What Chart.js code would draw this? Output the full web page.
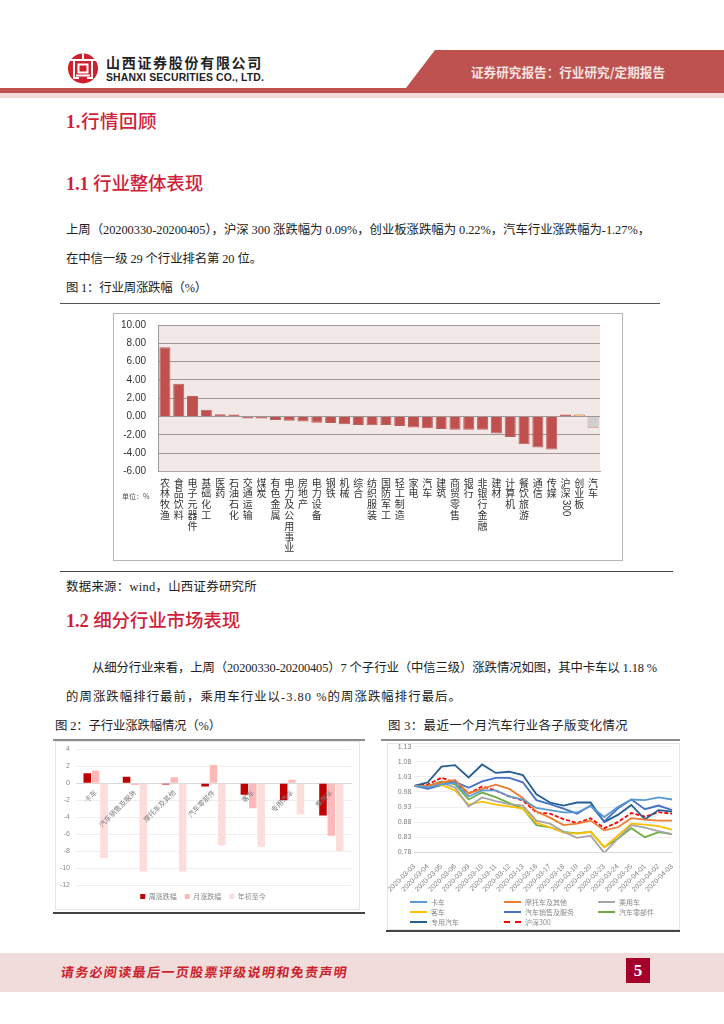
<!DOCTYPE html>
<html lang="zh">
<head>
<meta charset="utf-8">
<title>行业周报</title>
<script src="https://cdn.jsdelivr.net/npm/chart.js@4"></script>
<style>
  html, body { margin: 0; padding: 0; background: #fff; }
  #page { position: relative; width: 724px; height: 1024px; overflow: hidden; font-family: "Liberation Serif", "Noto Sans CJK SC", serif; color: #222; }
  .abs { position: absolute; white-space: nowrap; }
  .h1 { color: #cf1f3a; font-size: 18.5px; line-height: 24px; font-weight: 500; }
  .h1 b { font-weight: 700; }
  .body { font-size: 12.4px; line-height: 18px; }
  .cap { font-size: 12.4px; line-height: 18px; }
  .rule { position: absolute; }
  canvas { position: absolute; display: block; }
  .legend3 { position: absolute; font: 7px "Noto Sans CJK SC", sans-serif; color: #8a8a8a; line-height: 10px; white-space: nowrap; }
  .legend3 i { position: absolute; left: -21px; top: 4px; width: 17px; height: 0; border-top-width: 2px; border-top-style: solid; }
</style>
</head>
<body>
<div id="page">
  <!-- 页眉 -->
  <svg class="abs" style="left:0;top:0" width="724" height="98">
    <polygon points="435,50 724,50 724,93 0,93 0,88 406,88" fill="#bd5250"/>
    <rect x="0" y="93" width="724" height="5" fill="#f3d9d8"/>
    <circle cx="83" cy="68.5" r="15" fill="#cf2030"/>
    <g fill="none" stroke="#fff" stroke-width="2">
      <path d="M68 60H98M74 60V78H79M92 60V78H87"/>
      <rect x="78.5" y="64.5" width="9" height="8"/>
      <path d="M76 75.5H90"/>
    </g>
    <path d="M83 53.5V60" stroke="#fff" stroke-width="2"/>
  </svg>
  <div class="abs" data-w="157" style="left:106px;top:52px;font:bold 14px/20px 'Noto Sans CJK SC';color:#222">山西证券股份有限公司</div>
  <div class="abs" data-w="158" style="left:106px;top:71px;font:bold 10.4px/13px 'Liberation Sans';color:#222">SHANXI SECURITIES CO., LTD.</div>
  <div class="abs" data-w="194" style="left:471px;top:62px;font:bold 12.6px/20px 'Noto Sans CJK SC';color:#f6e3e2">证券研究报告：行业研究/定期报告</div>

  <div class="abs h1" data-w="91" style="left:66px;top:110px"><b>1.</b>行情回顾</div>
  <div class="abs h1" data-w="137" style="left:66px;top:172px"><b>1.1</b> 行业整体表现</div>
  <div class="abs body" data-w="584" style="left:66px;top:221px">上周（20200330-20200405），沪深 300 涨跌幅为 0.09%，创业板涨跌幅为 0.22%，汽车行业涨跌幅为-1.27%，</div>
  <div class="abs body" data-w="196" style="left:66px;top:250px">在中信一级 29 个行业排名第 20 位。</div>
  <div class="abs cap" data-w="141" style="left:66px;top:279px">图 1：行业周涨跌幅（%）</div>
  <div class="rule" style="left:60px;top:303px;width:600px;height:1px;background:#555"></div>

  <canvas id="chartWeek" style="left:113px;top:313px;outline:1px solid #b5b5b5;outline-offset:-1px"></canvas>
  <div class="abs" style="left:122px;top:491px;font:7px/11px 'Noto Sans CJK SC';color:#555">单位：%</div>

  <div class="rule" style="left:60px;top:571px;width:613px;height:1px;background:#444"></div>
  <div class="abs cap" data-w="191" style="left:66px;top:578px">数据来源：wind，山西证券研究所</div>
  <div class="abs h1" data-w="174" style="left:66px;top:609px"><b>1.2</b> 细分行业市场表现</div>
  <div class="abs body" data-w="565" style="left:92px;top:659px">从细分行业来看，上周（20200330-20200405）7 个子行业（中信三级）涨跌情况如图，其中卡车以 1.18 %</div>
  <div class="abs body" data-w="396" style="left:66px;top:688px">的周涨跌幅排行最前，乘用车行业以-3.80 %的周涨跌幅排行最后。</div>

  <div class="abs cap" data-w="166" style="left:55px;top:717px">图 2：子行业涨跌幅情况（%）</div>
  <div class="abs cap" data-w="240" style="left:388px;top:717px">图 3：最近一个月汽车行业各子版变化情况</div>
  <div class="rule" style="left:53px;top:739px;width:312px;height:2px;background:#8c8c8c"></div>
  <div class="rule" style="left:381px;top:739px;width:299px;height:2px;background:#8c8c8c"></div>

  <canvas id="chartSub" style="left:55px;top:741px;outline:1px solid #e6e6e6;outline-offset:-1px"></canvas>
  <canvas id="chartTrend" style="left:387px;top:743px;outline:1px solid #e6e6e6;outline-offset:-1px"></canvas>
  <div id="trendLegend"></div>

  <div class="rule" style="left:53px;top:912px;width:312px;height:2px;background:#444"></div>
  <div class="rule" style="left:386px;top:930px;width:294px;height:2px;background:#444"></div>

  <!-- 页脚 -->
  <div class="rule" style="left:0;top:953px;width:724px;height:39px;background:#f1dcdc"></div>
  <div class="abs" data-w="290" style="left:61px;top:962px;font:bold 13px/20px 'Noto Sans CJK SC';color:#cc1f2d;transform:skewX(-8deg)">请务必阅读最后一页股票评级说明和免责声明</div>
  <div class="rule" style="left:626px;top:958px;width:24px;height:25px;background:#a4002a;color:#fff;text-align:center;font:bold 17px/25px 'Liberation Serif'">5</div>
</div>

<script>
// 图1 行业周涨跌幅
const industryNames = ['农林牧渔', '食品饮料', '电子元器件', '基础化工', '医药', '石油石化', '交通运输', '煤炭',
  '有色金属', '电力及公用事业', '房地产', '电力设备', '钢铁', '机械', '综合', '纺织服装', '国防军工', '轻工制造',
  '家电', '汽车', '建筑', '商贸零售', '银行', '非银行金融', '建材', '计算机', '餐饮旅游', '通信', '传媒',
  '沪深300', '创业板', '汽车'];
const industryChange = [7.56, 3.57, 2.25, 0.75, 0.25, 0.1, -0.1, -0.2, -0.38, -0.45, -0.55, -0.68, -0.7, -0.85, -0.92, -0.95,
  -0.92, -1.02, -1.2, -1.27, -1.35, -1.45, -1.45, -1.45, -1.85, -2.22, -3.02, -3.38, -3.6, 0.09, 0.22, -1.27];

// 图2 子行业涨跌幅
const subNames = ['卡车', '汽车销售及服务', '摩托车及其他', '汽车零部件', '客车', '专用汽车', '乘用车'];
const subWeek = [1.18, 0.75, -0.15, -0.4, -1.35, -2.0, -3.8];
const subMonth = [1.5, -0.2, 0.7, 2.15, -2.95, 0.4, -6.2];
const subYear = [-8.85, -10.4, -10.4, -7.3, -7.5, -3.7, -8.0];

// 图3 各子版走势
const trendDates = ['2020-03-03', '2020-03-04', '2020-03-05', '2020-03-06', '2020-03-09', '2020-03-10', '2020-03-11',
  '2020-03-12', '2020-03-13', '2020-03-16', '2020-03-17', '2020-03-18', '2020-03-19', '2020-03-20', '2020-03-23',
  '2020-03-24', '2020-03-25', '2020-04-01', '2020-04-02', '2020-04-03'];
const truck = [1.0, 0.995, 1.005, 1.01, 0.965, 0.985, 0.985, 0.965, 0.955, 0.927, 0.92, 0.912, 0.912, 0.933, 0.897, 0.93, 0.955, 0.953, 0.962, 0.955];
const motorcycle = [1.0, 1.0, 1.012, 1.02, 0.975, 0.99, 1.004, 0.99, 0.96, 0.915, 0.895, 0.87, 0.875, 0.885, 0.853, 0.863, 0.893, 0.888, 0.885, 0.885];
const passengerCar = [1.0, 0.998, 1.01, 0.995, 0.932, 0.962, 0.95, 0.94, 0.935, 0.885, 0.875, 0.848, 0.828, 0.835, 0.778, 0.825, 0.87, 0.862, 0.85, 0.84];
const bus = [1.0, 1.0, 1.003, 0.985, 0.938, 0.948, 0.938, 0.932, 0.925, 0.878, 0.863, 0.845, 0.842, 0.848, 0.797, 0.835, 0.875, 0.872, 0.867, 0.855];
const salesService = [1.0, 0.99, 1.003, 1.014, 0.994, 1.015, 1.027, 1.027, 1.012, 0.953, 0.94, 0.925, 0.908, 0.935, 0.882, 0.925, 0.955, 0.923, 0.935, 0.92];
const autoParts = [1.0, 1.0, 1.015, 1.005, 0.955, 0.978, 0.963, 0.943, 0.925, 0.87, 0.863, 0.848, 0.843, 0.848, 0.797, 0.825, 0.86, 0.83, 0.847, 0.84];
const specialVehicle = [1.0, 1.012, 1.064, 1.069, 1.028, 1.071, 1.043, 1.047, 1.036, 0.972, 0.945, 0.935, 0.945, 0.945, 0.88, 0.904, 0.937, 0.889, 0.92, 0.915];
const hs300 = [1.0, 1.005, 1.027, 1.012, 0.975, 0.998, 0.985, 0.965, 0.952, 0.912, 0.908, 0.89, 0.877, 0.893, 0.86, 0.88, 0.91, 0.898, 0.913, 0.908];

const cjk = '"Noto Sans CJK SC", sans-serif';
const latin = '"Liberation Sans", sans-serif';

// 调字距，让每行文字和原图一样宽
document.querySelectorAll('[data-w]').forEach(el => {
  const extra = Number(el.dataset.w) - el.getBoundingClientRect().width;
  el.style.letterSpacing = (extra / el.textContent.length) + 'px';
});

function makeCanvas(id, w, h) {
  const c = document.getElementById(id);
  c.width = w;
  c.height = h;
  c.style.width = w + 'px';
  c.style.height = h + 'px';
  return c;
}

// y 轴定宽，并去掉刻度文字带来的额外上下留白
function fixYAxis(width) {
  return s => {
    s.width = width;
    s.paddingTop = 0;
    s.paddingBottom = 0;
  };
}

// 绘图区底色
const plotBackground = {
  id: 'plotBackground',
  beforeDraw(chart) {
    const a = chart.chartArea;
    chart.ctx.save();
    chart.ctx.fillStyle = '#f2e8e8';
    chart.ctx.fillRect(a.left, a.top, a.right - a.left, a.bottom - a.top);
    chart.ctx.restore();
  }
};

// "300" 在原图里是横躺的
const rotatedDigits = {
  id: 'rotatedDigits',
  afterDraw(chart) {
    const i = industryNames.indexOf('沪深300');
    const x = chart.scales.x.getPixelForValue(i);
    const ctx = chart.ctx;
    ctx.save();
    ctx.translate(x, 195);
    ctx.rotate(Math.PI / 2);
    ctx.font = '10px ' + latin;
    ctx.fillStyle = '#333';
    ctx.textAlign = 'center';
    ctx.textBaseline = 'middle';
    ctx.fillText('300', 0, 0);
    ctx.restore();
  }
};

// ------------------------ 图1 ------------------------
new Chart(makeCanvas('chartWeek', 510, 248), {
  type: 'bar',
  plugins: [plotBackground, rotatedDigits],
  data: {
    labels: industryNames,
    datasets: [{
      data: industryChange,
      backgroundColor: ctx => ctx.dataIndex === 30 ? '#f7c55f' : ctx.dataIndex === 31 ? '#cfcfcf' : '#c0504d',
      borderColor: ctx => ctx.dataIndex === 31 ? '#d29a98' : ctx.dataIndex === 30 ? '#c0504d' : '#b8615f',
      borderWidth: 1,
      minBarLength: 2,
      barPercentage: 0.8,
      categoryPercentage: 1
    }]
  },
  options: {
    responsive: false,
    animation: false,
    layout: { padding: { top: 12, right: 23 } },
    plugins: { legend: { display: false }, tooltip: { enabled: false } },
    scales: {
      x: {
        afterFit(s) { s.height = 89.5; },
        grid: { display: false, tickLength: 0 },
        border: { color: '#b0a8a8' },
        ticks: {
          color: '#333',
          padding: 6,
          autoSkip: false,
          maxRotation: 0,
          minRotation: 0,
          font: { family: cjk, size: 10, lineHeight: 1.08 },
          callback(value) {
            return this.getLabelForValue(value).match(/\d+|./g).map(t => /\d/.test(t) ? '' : t);
          }
        }
      },
      y: {
        min: -6,
        max: 10,
        afterFit: fixYAxis(45),
        grid: { color: '#a09898', drawTicks: false, lineWidth: 1 },
        border: { color: '#a09898' },
        ticks: {
          stepSize: 2,
          padding: 12,
          color: '#333',
          font: { family: latin, size: 10 },
          callback: v => v.toFixed(2)
        }
      }
    }
  }
});

// ------------------------ 图2 ------------------------
new Chart(makeCanvas('chartSub', 305, 169), {
  type: 'bar',
  data: {
    labels: subNames,
    datasets: [
      { label: '周涨跌幅', data: subWeek, backgroundColor: '#c00000' },
      { label: '月涨跌幅', data: subMonth, backgroundColor: '#ffb9b9' },
      { label: '年初至今', data: subYear, backgroundColor: '#fddcdc' }
    ]
  },
  options: {
    responsive: false,
    animation: false,
    datasets: { bar: { categoryPercentage: 0.64, barPercentage: 0.9 } },
    layout: { padding: { top: 8.3, right: 9, left: 0, bottom: 0 } },
    plugins: {
      tooltip: { enabled: false },
      legend: {
        position: 'bottom',
        labels: { boxWidth: 5, boxHeight: 5, padding: 8, color: '#8a8a8a', font: { family: cjk, size: 7 } }
      }
    },
    scales: {
      x: {
        position: { y: 0 },
        grid: { display: false, tickLength: 4 },
        border: { color: '#d9d9d9' },
        ticks: {
          z: 1,
          color: '#7f7f7f',
          padding: 1,
          autoSkip: false,
          minRotation: 45,
          maxRotation: 45,
          font: { family: cjk, size: 7 }
        }
      },
      y: {
        min: -12,
        max: 4,
        afterFit: fixYAxis(21),
        grid: { color: '#eeeeee', drawTicks: false },
        border: { display: false },
        ticks: { stepSize: 2, padding: 6, color: '#8a8a8a', font: { family: latin, size: 7 } }
      }
    }
  }
});

// ------------------------ 图3 ------------------------
const trendSeries = [
  { label: '卡车', data: truck, color: '#5b9bd5' },
  { label: '摩托车及其他', data: motorcycle, color: '#ed7d31' },
  { label: '乘用车', data: passengerCar, color: '#a5a5a5' },
  { label: '客车', data: bus, color: '#ffc000' },
  { label: '汽车销售及服务', data: salesService, color: '#4472c4' },
  { label: '汽车零部件', data: autoParts, color: '#70ad47' },
  { label: '专用汽车', data: specialVehicle, color: '#255e91' },
  { label: '沪深300', data: hs300, color: '#ff0000', dash: [4, 2] }
];

new Chart(makeCanvas('chartTrend', 293, 187), {
  type: 'line',
  data: {
    labels: trendDates,
    datasets: trendSeries.map(s => ({
      label: s.label,
      data: s.data,
      borderColor: s.color,
      borderWidth: 1.8,
      borderDash: s.dash || [],
      pointRadius: 0,
      tension: 0
    }))
  },
  options: {
    responsive: false,
    animation: false,
    layout: { padding: { top: 3.7, right: 3 } },
    plugins: { legend: { display: false }, tooltip: { enabled: false } },
    scales: {
      x: {
        afterFit(s) { s.height = 77.7; },
        grid: { display: false },
        border: { color: '#d9d9d9' },
        ticks: {
          color: '#7f7f7f',
          padding: 2,
          autoSkip: false,
          minRotation: 45,
          maxRotation: 45,
          font: { family: latin, size: 7 }
        }
      },
      y: {
        min: 0.78,
        max: 1.13,
        afterFit: fixYAxis(20),
        grid: { color: '#eeeeee', drawTicks: false },
        border: { display: false },
        ticks: { stepSize: 0.05, padding: 3, color: '#7f7f7f', font: { family: latin, size: 7 }, callback: v => v.toFixed(2) }
      }
    }
  }
});

// 图3 的图例是三列，Chart.js 自带的排不出来
const legendBox = document.getElementById('trendLegend');
trendSeries.forEach((s, i) => {
  const item = document.createElement('div');
  item.className = 'legend3';
  item.style.left = [431, 525, 619][i % 3] + 'px';
  item.style.top = [897, 907, 917][Math.floor(i / 3)] + 'px';
  const line = document.createElement('i');
  line.style.borderTopColor = s.color;
  if (s.dash) line.style.borderTopStyle = 'dashed';
  item.appendChild(line);
  item.appendChild(document.createTextNode(s.label));
  legendBox.appendChild(item);
});
</script>
</body>
</html>
